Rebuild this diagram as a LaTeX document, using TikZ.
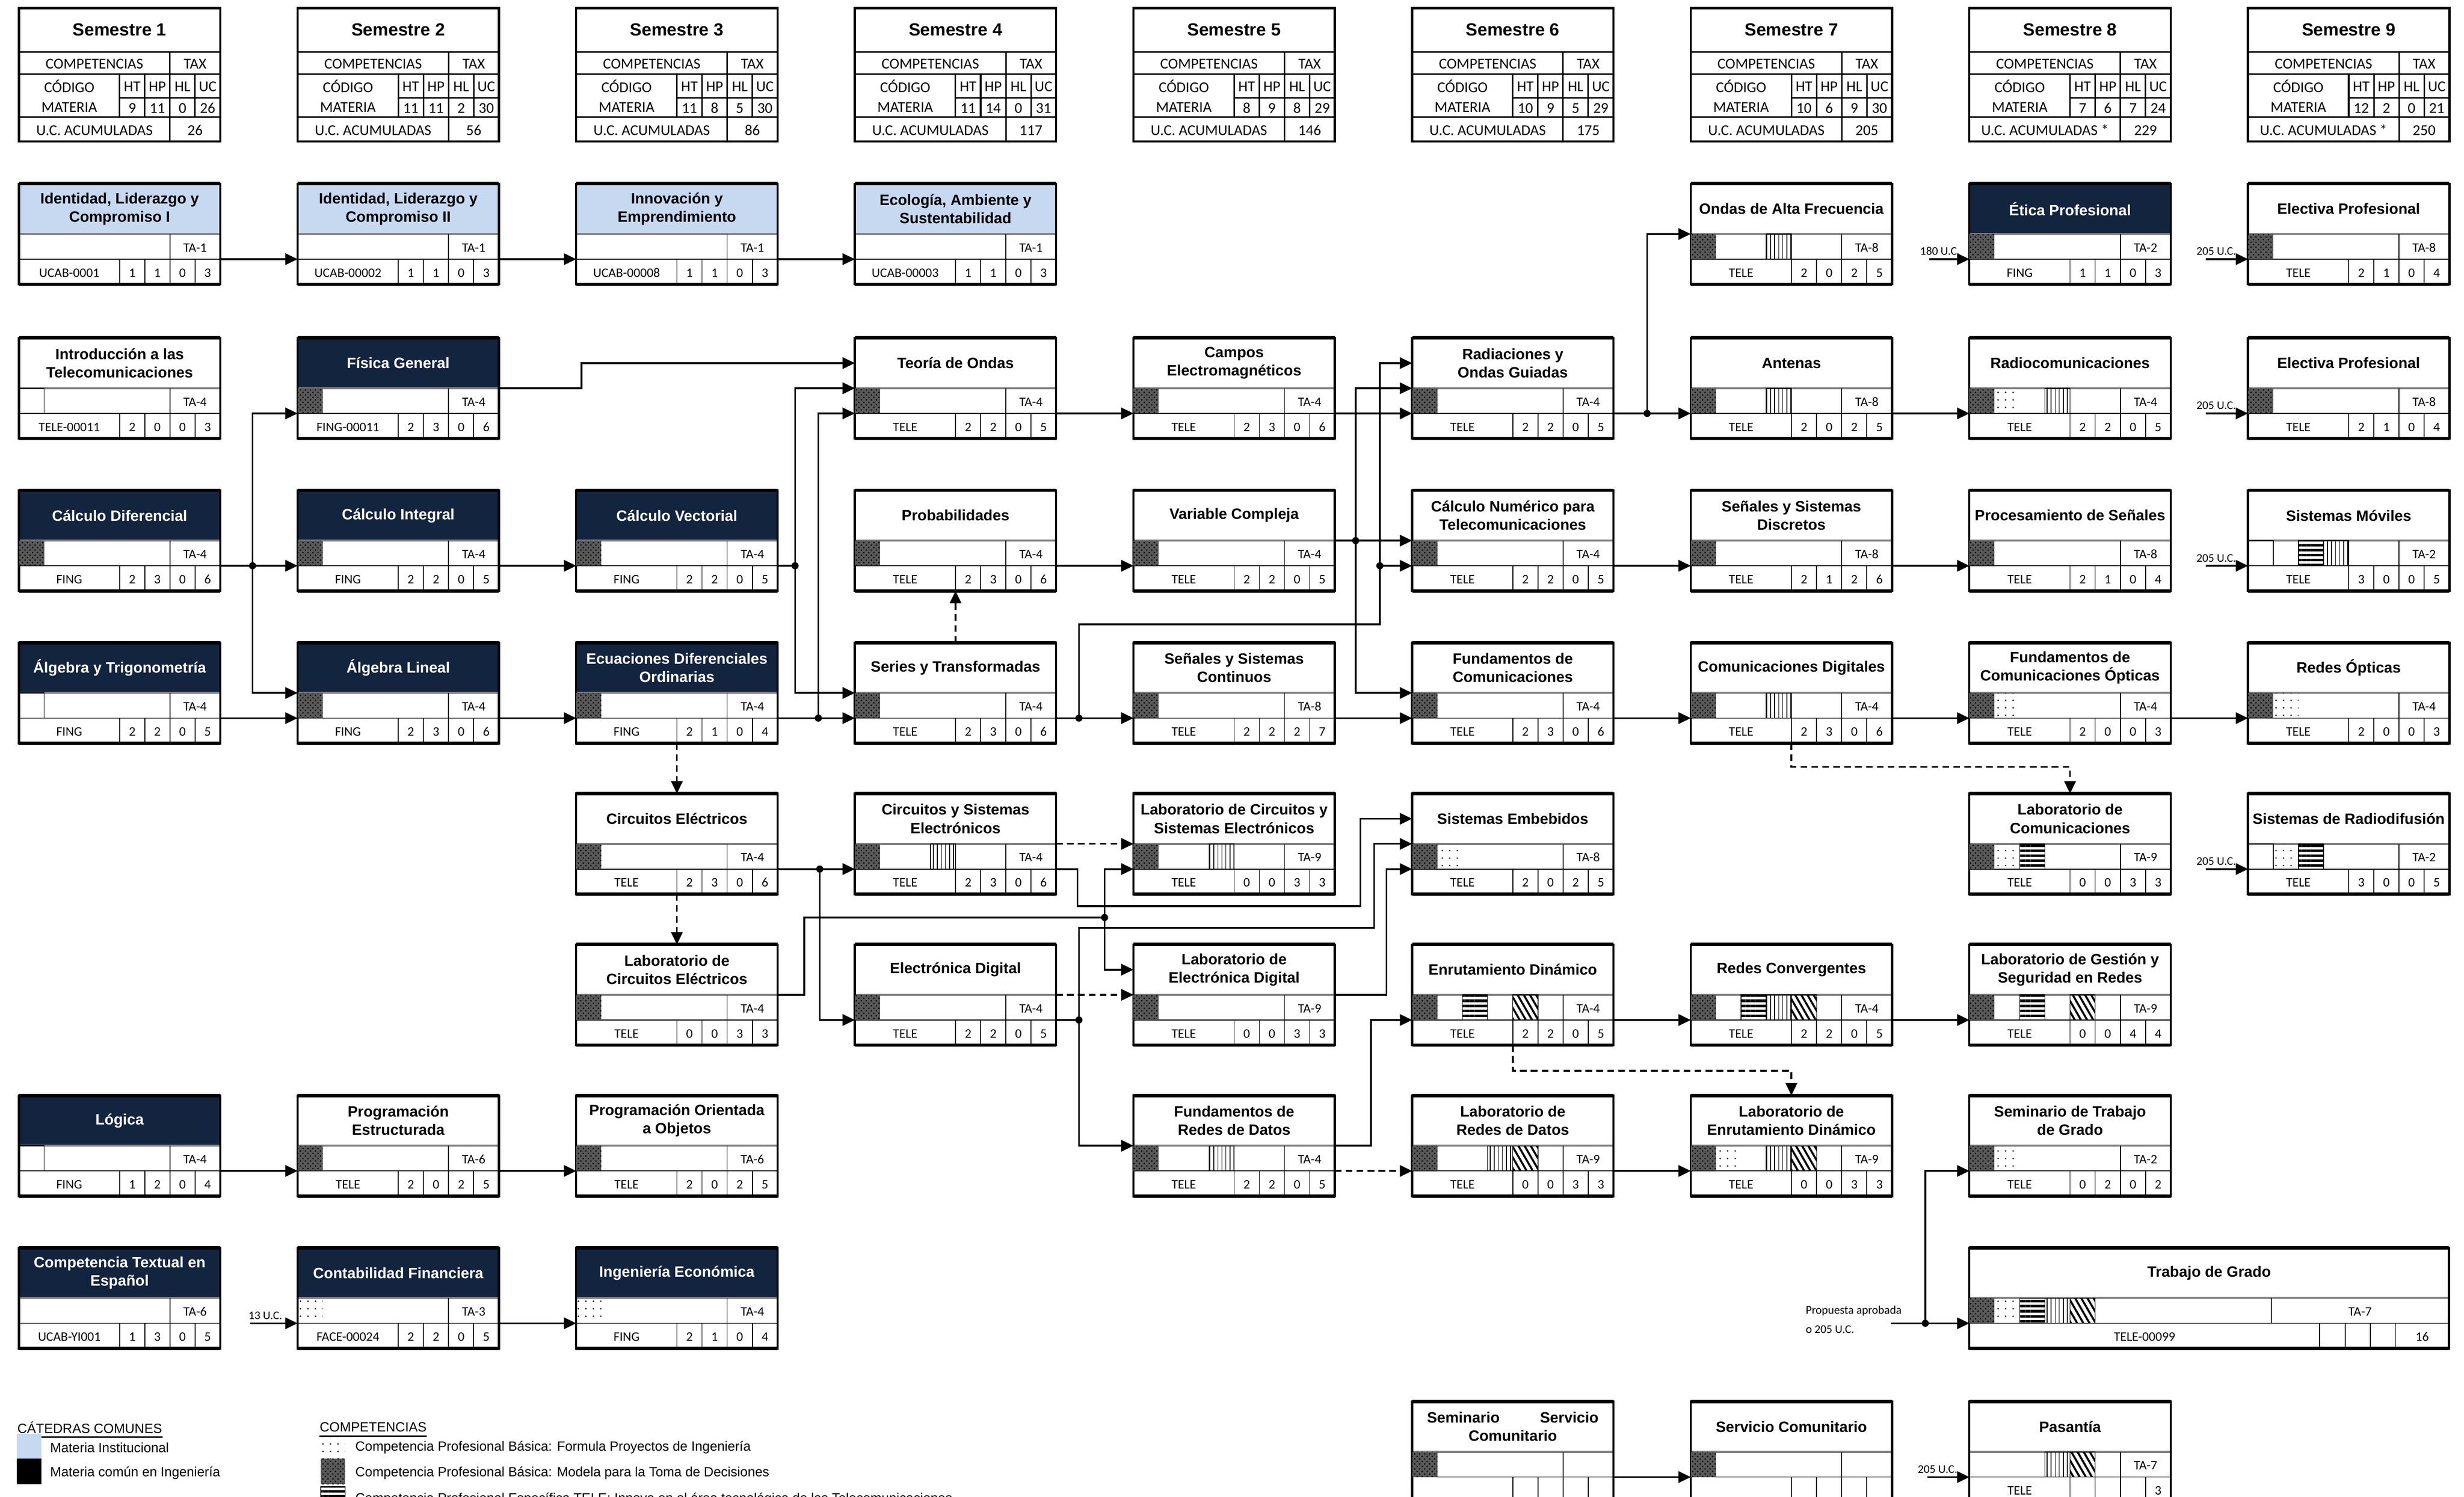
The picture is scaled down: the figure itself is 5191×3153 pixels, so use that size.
\documentclass[tikz,border=0pt]{standalone}
\usepackage{fontspec}
\setmainfont{Liberation Sans}
\newfontfamily\calibri{Carlito}
\usetikzlibrary{positioning, calc, arrows.meta, patterns, patterns.meta}
\definecolor{azulucab}{HTML}{13243F}
\definecolor{celeste}{HTML}{C6D9F1}

% caja de materia: nombre, x, y, estilo del titulo, titulo
\newcommand{\materia}[5]
{
	\begin{scope}[shift={(#2,#3)}]
		\fill[#4] (0,0) rectangle (424,106);
		\coordinate (#1-o) at (0,0);
		\coordinate (#1-n) at (212,0);
		\coordinate (#1-s) at (212,212);
		\coordinate (#1-w1) at (0,53);
		\coordinate (#1-w2) at (0,106);
		\coordinate (#1-w3) at (0,159);
		\coordinate (#1-e1) at (424,53);
		\coordinate (#1-e2) at (424,106);
		\coordinate (#1-e3) at (424,159);
		\node[titulo, #4] (#1-tit) at (212,53) {#5};
		\draw[sep] (0,106) -- (424,106);
		\draw[fino] (318,106) -- (318,159) (0,159) -- (424,159) (212,159) -- (212,212)
			(265,159) -- (265,212) (318,159) -- (318,212) (371,159) -- (371,212);
		\node[caja] (#1) at (212,106) {};
		\draw[line width=2pt] (0,0) -- (424,0) (0,212) -- (424,212);
	\end{scope}
}
% TA, codigo, HT, HP, HL, UC
\newcommand{\datos}[7]
{
	\node[dato] (#1-ta) at ($(#1-o)+(371,132)$) {#2};
	\node[dato] (#1-cod) at ($(#1-o)+(106,185)$) {#3};
	\node[dato] (#1-ht) at ($(#1-o)+(238.5,185)$) {#4};
	\node[dato] (#1-hp) at ($(#1-o)+(291.5,185)$) {#5};
	\node[dato] (#1-hl) at ($(#1-o)+(344.5,185)$) {#6};
	\node[dato] (#1-uc) at ($(#1-o)+(397.5,185)$) {#7};
}
% celdas de competencias: lista casilla/patron
\newcommand{\competencia}[2]
{
	\foreach \slot/\pat in {#2}
		\path[patron/.expanded=\pat] ($(#1-o)+(53*\slot-53,106)$) rectangle +(53,53);
}
% cabecera de semestre
\newcommand{\semestre}[9]
{
	\begin{scope}[shift={(#2,17)}]
		\draw[semlinea] (0,93) -- (424,93) (0,139) -- (424,139) (212,189) -- (424,189) (0,230) -- (424,230)
			(318,93) -- (318,281) (212,139) -- (212,230) (265,139) -- (265,230) (371,139) -- (371,230);
		\node[semcaja] (#1) at (212,140.5) {};
		\node[semtit] (#1-tit) at (212,46) {Semestre #3};
		\node[semtxt] (#1-comp) at (159,116) {COMPETENCIAS};
		\node[semtxt] (#1-tax) at (371,116) {TAX};
		\node[semtxt] (#1-cod) at (106,166) {CÓDIGO};
		\node[semtxt] (#1-mat) at (106,208) {MATERIA};
		\node[semtxt] (#1-lht) at (238.5,164) {HT};
		\node[semtxt] (#1-lhp) at (291.5,164) {HP};
		\node[semtxt] (#1-lhl) at (344.5,164) {HL};
		\node[semtxt] (#1-luc) at (397.5,164) {UC};
		\node[semtxt] (#1-ht) at (238.5,210) {#4};
		\node[semtxt] (#1-hp) at (291.5,210) {#5};
		\node[semtxt] (#1-hl) at (344.5,210) {#6};
		\node[semtxt] (#1-uc) at (397.5,210) {#7};
		\node[semtxt] (#1-acl) at (159,256) {#8};
		\node[semtxt] (#1-ac) at (371,256) {#9};
	\end{scope}
}

\begin{document}
\begin{tikzpicture}[x=0.01cm, y=-0.01cm,
	caja/.style={draw=black, line width=1.3pt, minimum width=4.24cm, minimum height=2.12cm, inner sep=0pt},
	semcaja/.style={draw=black, line width=1.3pt, minimum width=4.24cm, minimum height=2.81cm, inner sep=0pt},
	semlinea/.style={line width=0.9pt},
	fino/.style={line width=0.5pt},
	sep/.style={draw=black!50, line width=1.2pt},
	titulo/.style={font=\bfseries\fontsize{9}{11}\selectfont, align=center, inner sep=0pt},
	dato/.style={font=\calibri\fontsize{7.8}{9}\selectfont, inner sep=0pt, text height=1.5ex, text depth=.25ex},
	semtit/.style={font=\bfseries\fontsize{10.5}{12}\selectfont, inner sep=0pt},
	semtxt/.style={font=\calibri\fontsize{9}{10}\selectfont, inner sep=0pt, text height=1.5ex, text depth=.25ex},
	uctxt/.style={font=\calibri\fontsize{7}{11.3}\selectfont, inner sep=1pt},
	leyenda/.style={font=\fontsize{8}{10}\selectfont, inner sep=0pt, anchor=west},
	blanco/.style={fill=white, text=black},
	inst/.style={fill=celeste, text=black},
	ing/.style={fill=azulucab, text=white},
	patron/.style={#1},
	pmodela/.style={fill=black!65, postaction={pattern=crosshatch dots, pattern color=black}},
	pformula/.style={pattern={Dots[distance=4.5pt, radius=0.5pt]}, pattern color=black},
	pinnova/.style={draw=black, line width=0.4pt, pattern={Lines[angle=0, distance=3pt, line width=1.5pt]}},
	pvert/.style={draw=black, line width=0.4pt, pattern={Lines[angle=90, distance=2.4pt, line width=0.5pt]}},
	pdiag/.style={draw=black, line width=0.4pt, pattern={Lines[angle=-60, distance=3.2pt, line width=1.2pt]}},
	pvacio/.style={draw=black, line width=0.5pt},
	linea/.style={line width=1.1pt},
	flecha/.style={line width=1.1pt, -{Triangle[length=0.26cm, width=0.24cm]}},
	discont/.style={flecha, dash pattern=on 0.14cm off 0.09cm}]

	\fill[white] (0,0) rectangle (5191,3153);
	\useasboundingbox (0,0) rectangle (5191,3153);

	% semestres
	\semestre{sem1}{40}{1}{9}{11}{0}{26}{U.C. ACUMULADAS}{26}
	\semestre{sem2}{627}{2}{11}{11}{2}{30}{U.C. ACUMULADAS}{56}
	\semestre{sem3}{1214}{3}{11}{8}{5}{30}{U.C. ACUMULADAS}{86}
	\semestre{sem4}{1801}{4}{11}{14}{0}{31}{U.C. ACUMULADAS}{117}
	\semestre{sem5}{2388}{5}{8}{9}{8}{29}{U.C. ACUMULADAS}{146}
	\semestre{sem6}{2975}{6}{10}{9}{5}{29}{U.C. ACUMULADAS}{175}
	\semestre{sem7}{3562}{7}{10}{6}{9}{30}{U.C. ACUMULADAS}{205}
	\semestre{sem8}{4149}{8}{7}{6}{7}{24}{U.C. ACUMULADAS *}{229}
	\semestre{sem9}{4736}{9}{12}{2}{0}{21}{U.C. ACUMULADAS *}{250}

	% semestre 1
	\materia{ident1}{40}{387}{inst}{Identidad, Liderazgo y\\Compromiso I}
	\datos{ident1}{TA-1}{UCAB-0001}{1}{1}{0}{3}
	\materia{intro}{40}{712}{blanco}{Introducción a las\\Telecomunicaciones}
	\competencia{intro}{1/pvacio}
	\datos{intro}{TA-4}{TELE-00011}{2}{0}{0}{3}
	\materia{calcdif}{40}{1033}{ing}{Cálculo Diferencial}
	\competencia{calcdif}{1/pmodela}
	\datos{calcdif}{TA-4}{FING}{2}{3}{0}{6}
	\materia{algtrig}{40}{1354}{ing}{Álgebra y Trigonometría}
	\competencia{algtrig}{1/pvacio}
	\datos{algtrig}{TA-4}{FING}{2}{2}{0}{5}
	\materia{logica}{40}{2308}{ing}{Lógica}
	\competencia{logica}{1/pvacio}
	\datos{logica}{TA-4}{FING}{1}{2}{0}{4}
	\materia{comptex}{40}{2629}{ing}{Competencia Textual en\\Español}
	\datos{comptex}{TA-6}{UCAB-YI001}{1}{3}{0}{5}

	% semestre 2
	\materia{ident2}{627}{387}{inst}{Identidad, Liderazgo y\\Compromiso II}
	\datos{ident2}{TA-1}{UCAB-00002}{1}{1}{0}{3}
	\materia{fisica}{627}{712}{ing}{Física General}
	\competencia{fisica}{1/pmodela}
	\datos{fisica}{TA-4}{FING-00011}{2}{3}{0}{6}
	\materia{calcint}{627}{1033}{ing}{Cálculo Integral}
	\competencia{calcint}{1/pmodela}
	\datos{calcint}{TA-4}{FING}{2}{2}{0}{5}
	\materia{alglin}{627}{1354}{ing}{Álgebra Lineal}
	\competencia{alglin}{1/pmodela}
	\datos{alglin}{TA-4}{FING}{2}{3}{0}{6}
	\materia{progest}{627}{2308}{blanco}{Programación\\Estructurada}
	\competencia{progest}{1/pmodela}
	\datos{progest}{TA-6}{TELE}{2}{0}{2}{5}
	\materia{contab}{627}{2629}{ing}{Contabilidad Financiera}
	\competencia{contab}{1/pformula}
	\datos{contab}{TA-3}{FACE-00024}{2}{2}{0}{5}

	% semestre 3
	\materia{innov}{1214}{387}{inst}{Innovación y\\Emprendimiento}
	\datos{innov}{TA-1}{UCAB-00008}{1}{1}{0}{3}
	\materia{calcvec}{1214}{1033}{ing}{Cálculo Vectorial}
	\competencia{calcvec}{1/pmodela}
	\datos{calcvec}{TA-4}{FING}{2}{2}{0}{5}
	\materia{edo}{1214}{1354}{ing}{Ecuaciones Diferenciales\\Ordinarias}
	\competencia{edo}{1/pmodela}
	\datos{edo}{TA-4}{FING}{2}{1}{0}{4}
	\materia{circel}{1214}{1672}{blanco}{Circuitos Eléctricos}
	\competencia{circel}{1/pmodela}
	\datos{circel}{TA-4}{TELE}{2}{3}{0}{6}
	\materia{labcirc}{1214}{1990}{blanco}{Laboratorio de\\Circuitos Eléctricos}
	\competencia{labcirc}{1/pmodela}
	\datos{labcirc}{TA-4}{TELE}{0}{0}{3}{3}
	\materia{poo}{1214}{2308}{blanco}{Programación Orientada\\a Objetos}
	\competencia{poo}{1/pmodela}
	\datos{poo}{TA-6}{TELE}{2}{0}{2}{5}
	\materia{ingecon}{1214}{2629}{ing}{Ingeniería Económica}
	\competencia{ingecon}{1/pformula}
	\datos{ingecon}{TA-4}{FING}{2}{1}{0}{4}

	% semestre 4
	\materia{eco}{1801}{387}{inst}{Ecología, Ambiente y\\Sustentabilidad}
	\datos{eco}{TA-1}{UCAB-00003}{1}{1}{0}{3}
	\materia{teoria}{1801}{712}{blanco}{Teoría de Ondas}
	\competencia{teoria}{1/pmodela}
	\datos{teoria}{TA-4}{TELE}{2}{2}{0}{5}
	\materia{prob}{1801}{1033}{blanco}{Probabilidades}
	\competencia{prob}{1/pmodela}
	\datos{prob}{TA-4}{TELE}{2}{3}{0}{6}
	\materia{series}{1801}{1354}{blanco}{Series y Transformadas}
	\competencia{series}{1/pmodela}
	\datos{series}{TA-4}{TELE}{2}{3}{0}{6}
	\materia{cse}{1801}{1672}{blanco}{Circuitos y Sistemas\\Electrónicos}
	\competencia{cse}{1/pmodela, 4/pvert}
	\datos{cse}{TA-4}{TELE}{2}{3}{0}{6}
	\materia{elecdig}{1801}{1990}{blanco}{Electrónica Digital}
	\competencia{elecdig}{1/pmodela}
	\datos{elecdig}{TA-4}{TELE}{2}{2}{0}{5}

	% semestre 5
	\materia{campos}{2388}{712}{blanco}{Campos\\Electromagnéticos}
	\competencia{campos}{1/pmodela}
	\datos{campos}{TA-4}{TELE}{2}{3}{0}{6}
	\materia{varcomp}{2388}{1033}{blanco}{Variable Compleja}
	\competencia{varcomp}{1/pmodela}
	\datos{varcomp}{TA-4}{TELE}{2}{2}{0}{5}
	\materia{ssc}{2388}{1354}{blanco}{Señales y Sistemas\\Continuos}
	\competencia{ssc}{1/pmodela}
	\datos{ssc}{TA-8}{TELE}{2}{2}{2}{7}
	\materia{labcse}{2388}{1672}{blanco}{Laboratorio de Circuitos y\\Sistemas Electrónicos}
	\competencia{labcse}{1/pmodela, 4/pvert}
	\datos{labcse}{TA-9}{TELE}{0}{0}{3}{3}
	\materia{labed}{2388}{1990}{blanco}{Laboratorio de\\Electrónica Digital}
	\competencia{labed}{1/pmodela}
	\datos{labed}{TA-9}{TELE}{0}{0}{3}{3}
	\materia{fundred}{2388}{2308}{blanco}{Fundamentos de\\Redes de Datos}
	\competencia{fundred}{1/pmodela, 4/pvert}
	\datos{fundred}{TA-4}{TELE}{2}{2}{0}{5}

	% semestre 6
	\materia{radiac}{2975}{712}{blanco}{Radiaciones y\\Ondas Guiadas}
	\competencia{radiac}{1/pmodela}
	\datos{radiac}{TA-4}{TELE}{2}{2}{0}{5}
	\materia{calcnum}{2975}{1033}{blanco}{Cálculo Numérico para\\Telecomunicaciones}
	\competencia{calcnum}{1/pmodela}
	\datos{calcnum}{TA-4}{TELE}{2}{2}{0}{5}
	\materia{fundcom}{2975}{1354}{blanco}{Fundamentos de\\Comunicaciones}
	\competencia{fundcom}{1/pmodela}
	\datos{fundcom}{TA-4}{TELE}{2}{3}{0}{6}
	\materia{embeb}{2975}{1672}{blanco}{Sistemas Embebidos}
	\competencia{embeb}{1/pmodela, 2/pformula}
	\datos{embeb}{TA-8}{TELE}{2}{0}{2}{5}
	\materia{enrut}{2975}{1990}{blanco}{Enrutamiento Dinámico}
	\competencia{enrut}{1/pmodela, 3/pinnova, 5/pdiag}
	\datos{enrut}{TA-4}{TELE}{2}{2}{0}{5}
	\materia{labredes}{2975}{2308}{blanco}{Laboratorio de\\Redes de Datos}
	\competencia{labredes}{1/pmodela, 4/pvert, 5/pdiag}
	\datos{labredes}{TA-9}{TELE}{0}{0}{3}{3}
	\materia{semserv}{2975}{2953}{blanco}{Seminario\hspace{0.85cm}Servicio\\Comunitario}
	\competencia{semserv}{1/pmodela}
	\datos{semserv}{}{}{}{}{}{}

	% semestre 7
	\materia{ondas}{3562}{387}{blanco}{Ondas de Alta Frecuencia}
	\competencia{ondas}{1/pmodela, 4/pvert}
	\datos{ondas}{TA-8}{TELE}{2}{0}{2}{5}
	\materia{antenas}{3562}{712}{blanco}{Antenas}
	\competencia{antenas}{1/pmodela, 4/pvert}
	\datos{antenas}{TA-8}{TELE}{2}{0}{2}{5}
	\materia{ssd}{3562}{1033}{blanco}{Señales y Sistemas\\Discretos}
	\competencia{ssd}{1/pmodela}
	\datos{ssd}{TA-8}{TELE}{2}{1}{2}{6}
	\materia{comdig}{3562}{1354}{blanco}{Comunicaciones Digitales}
	\competencia{comdig}{1/pmodela, 4/pvert}
	\datos{comdig}{TA-4}{TELE}{2}{3}{0}{6}
	\materia{redconv}{3562}{1990}{blanco}{Redes Convergentes}
	\competencia{redconv}{1/pmodela, 3/pinnova, 4/pvert, 5/pdiag}
	\datos{redconv}{TA-4}{TELE}{2}{2}{0}{5}
	\materia{labenrut}{3562}{2308}{blanco}{Laboratorio de\\Enrutamiento Dinámico}
	\competencia{labenrut}{1/pmodela, 2/pformula, 4/pvert, 5/pdiag}
	\datos{labenrut}{TA-9}{TELE}{0}{0}{3}{3}
	\materia{servcom}{3562}{2953}{blanco}{Servicio Comunitario}
	\competencia{servcom}{1/pmodela}
	\datos{servcom}{}{}{}{}{}{}

	% semestre 8
	\materia{etica}{4149}{387}{ing}{Ética Profesional}
	\competencia{etica}{1/pmodela}
	\datos{etica}{TA-2}{FING}{1}{1}{0}{3}
	\materia{radiocom}{4149}{712}{blanco}{Radiocomunicaciones}
	\competencia{radiocom}{1/pmodela, 2/pformula, 4/pvert}
	\datos{radiocom}{TA-4}{TELE}{2}{2}{0}{5}
	\materia{procsen}{4149}{1033}{blanco}{Procesamiento de Señales}
	\competencia{procsen}{1/pmodela}
	\datos{procsen}{TA-8}{TELE}{2}{1}{0}{4}
	\materia{fco}{4149}{1354}{blanco}{Fundamentos de\\Comunicaciones Ópticas}
	\competencia{fco}{1/pmodela, 2/pformula}
	\datos{fco}{TA-4}{TELE}{2}{0}{0}{3}
	\materia{labcom}{4149}{1672}{blanco}{Laboratorio de\\Comunicaciones}
	\competencia{labcom}{1/pmodela, 2/pformula, 3/pinnova}
	\datos{labcom}{TA-9}{TELE}{0}{0}{3}{3}
	\materia{labgest}{4149}{1990}{blanco}{Laboratorio de Gestión y\\Seguridad en Redes}
	\competencia{labgest}{1/pmodela, 3/pinnova, 5/pdiag}
	\datos{labgest}{TA-9}{TELE}{0}{0}{4}{4}
	\materia{semtg}{4149}{2308}{blanco}{Seminario de Trabajo\\de Grado}
	\competencia{semtg}{1/pmodela, 2/pformula}
	\datos{semtg}{TA-2}{TELE}{0}{2}{0}{2}
	\materia{pasant}{4149}{2953}{blanco}{Pasantía}
	\competencia{pasant}{4/pvert, 5/pdiag}
	\datos{pasant}{TA-7}{TELE}{}{}{}{3}

	% semestre 9
	\materia{elec1}{4736}{387}{blanco}{Electiva Profesional}
	\competencia{elec1}{1/pmodela}
	\datos{elec1}{TA-8}{TELE}{2}{1}{0}{4}
	\materia{elec2}{4736}{712}{blanco}{Electiva Profesional}
	\competencia{elec2}{1/pmodela}
	\datos{elec2}{TA-8}{TELE}{2}{1}{0}{4}
	\materia{movil}{4736}{1033}{blanco}{Sistemas Móviles}
	\competencia{movil}{1/pvacio, 3/pinnova, 4/pvert}
	\datos{movil}{TA-2}{TELE}{3}{0}{0}{5}
	\materia{redesop}{4736}{1354}{blanco}{Redes Ópticas}
	\competencia{redesop}{1/pmodela, 2/pformula}
	\datos{redesop}{TA-4}{TELE}{2}{0}{0}{3}
	\materia{radiodif}{4736}{1672}{blanco}{Sistemas de Radiodifusión}
	\competencia{radiodif}{1/pvacio, 2/pformula, 3/pinnova}
	\datos{radiodif}{TA-2}{TELE}{3}{0}{0}{5}

	% trabajo de grado
	\begin{scope}[shift={(4149,2629)}]
		\coordinate (tg-o) at (0,0);
		\coordinate (tg-w3) at (0,159);
		\node[titulo] (tg-tit) at (505,53) {Trabajo de Grado};
		\draw[sep] (0,106) -- (1010,106);
		\draw[fino] (636,106) -- (636,159) (0,159) -- (1010,159) (738,159) -- (738,212)
			(792,159) -- (792,212) (845,159) -- (845,212) (898,159) -- (898,212);
		\node[caja, minimum width=10.1cm] (tg) at (505,106) {};
		\draw[line width=2pt] (0,0) -- (1010,0) (0,212) -- (1010,212);
		\node[dato] (tg-ta) at (823,132) {TA-7};
		\node[dato] (tg-cod) at (369,185) {TELE-00099};
		\node[dato] (tg-uc) at (954,185) {16};
	\end{scope}
	\competencia{tg}{1/pmodela, 2/pformula, 3/pinnova, 4/pvert, 5/pdiag}

	% prelaciones
	\draw[flecha] (ident1-e3) -- (ident2-w3);
	\draw[flecha] (ident2-e3) -- (innov-w3);
	\draw[flecha] (innov-e3) -- (eco-w3);
	\coordinate (j1) at ($(calcdif-e3)+(68,0)$);
	\draw[linea] (calcdif-e3) -- (j1);
	\draw[flecha] (j1) |- (fisica-w3);
	\draw[flecha] (j1) -- (calcint-w3);
	\draw[flecha] (j1) |- (alglin-w2);
	\draw[flecha] (algtrig-e3) -- (alglin-w3);
	\draw[flecha] (calcint-e3) -- (calcvec-w3);
	\draw[flecha] (alglin-e3) -- (edo-w3);
	\draw[flecha] (fisica-e2) -- ++(174,0) |- (teoria-w1);
	\coordinate (j2) at ($(calcvec-e3)+(37,0)$);
	\draw[linea] (calcvec-e3) -- (j2);
	\draw[flecha] (j2) |- (teoria-w2);
	\draw[flecha] (j2) |- (series-w2);
	\coordinate (j3) at ($(edo-e3)+(86,0)$);
	\draw[flecha] (edo-e3) -- (series-w3);
	\draw[flecha] (j3) |- (teoria-w3);
	\draw[discont] (edo-s) -- (circel-n);
	\draw[discont] (circel-s) -- (labcirc-n);
	\draw[discont] (series-n) -- (prob-s);
	\draw[flecha] (teoria-e3) -- (campos-w3);
	\draw[flecha] (prob-e3) -- (varcomp-w3);
	\coordinate (j4) at ($(series-e3)+(48,0)$);
	\coordinate (j5) at ($(calcnum-w3)+(-68,0)$);
	\draw[flecha] (series-e3) -- (ssc-w3);
	\draw[flecha] (j4) -- ++(0,-198) -| ($(radiac-w1)+(-68,0)$) -- (radiac-w1);
	\draw[flecha] (j5) -- (calcnum-w3);
	\coordinate (j6) at ($(varcomp-e2)+(44,0)$);
	\draw[flecha] (varcomp-e2) -- (calcnum-w2);
	\draw[flecha] (j6) |- (radiac-w2);
	\draw[flecha] (j6) |- (fundcom-w2);
	\draw[flecha] (campos-e3) -- (radiac-w3);
	\draw[flecha] (ssc-e3) -- (fundcom-w3);
	\coordinate (j7) at ($(circel-e3)+(89,0)$);
	\draw[flecha] (circel-e3) -- (cse-w3);
	\draw[flecha] (j7) |- (elecdig-w3);
	\coordinate (j8) at ($(labcse-w3)+(-61,102)$);
	\draw[linea] (labcirc-e2) -- ++(56,0) |- (j8);
	\draw[flecha] (j8) |- (labcse-w3);
	\draw[flecha] (j8) |- (labed-w1);
	\draw[discont] (cse-e2) -- (labcse-w2);
	\draw[flecha] (cse-e3) -- ++(45,0) -- ++(0,78) -| ($(embeb-w1)+(-109,0)$) -- (embeb-w1);
	\coordinate (j9) at ($(elecdig-e3)+(48,0)$);
	\draw[linea] (elecdig-e3) -- (j9);
	\draw[flecha] (j9) -- ++(0,-194) -| ($(embeb-w2)+(-80,0)$) -- (embeb-w2);
	\draw[flecha] (j9) |- (fundred-w2);
	\draw[discont] (elecdig-e2) -- (labed-w2);
	\draw[flecha] (labed-e2) -| ($(embeb-w3)+(-54,0)$) -- (embeb-w3);
	\draw[flecha] (fundred-e2) -| ($(enrut-w3)+(-87,0)$) -- (enrut-w3);
	\draw[discont] (fundred-e3) -- (labredes-w3);
	\coordinate (j10) at ($(radiac-e3)+(71,0)$);
	\draw[flecha] (radiac-e3) -- (antenas-w3);
	\draw[flecha] (j10) |- (ondas-w2);
	\draw[flecha] (calcnum-e3) -- (ssd-w3);
	\draw[flecha] (fundcom-e3) -- (comdig-w3);
	\draw[flecha] (antenas-e3) -- (radiocom-w3);
	\draw[flecha] (ssd-e3) -- (procsen-w3);
	\draw[flecha] (comdig-e3) -- (fco-w3);
	\draw[flecha] (fco-e3) -- (redesop-w3);
	\draw[discont] (comdig-s) -- ++(0,50) -| (labcom-n);
	\draw[flecha] (enrut-e3) -- (redconv-w3);
	\draw[flecha] (redconv-e3) -- (labgest-w3);
	\draw[discont] (enrut-s) -- ++(0,54) -| (labenrut-n);
	\draw[flecha] (labredes-e3) -- (labenrut-w3);
	\draw[flecha] (logica-e3) -- (progest-w3);
	\draw[flecha] (progest-e3) -- (poo-w3);
	\draw[flecha] (contab-e3) -- (ingecon-w3);
	\draw[flecha] (semserv-e3) -- (servcom-w3);
	\coordinate (tg-in) at ($(tg-w3)+(-165,0)$);
	\coordinate (j11) at ($(tg-w3)+(-93,0)$);
	\draw[flecha] (tg-in) -- (tg-w3);
	\draw[flecha] (j11) |- (semtg-w3);
	\node[uctxt, anchor=west, align=left] (tprop) at (3800,2780) {Propuesta aprobada\\o 205 U.C.};
	\foreach \j in {j1,j2,j3,j4,j5,j6,j7,j8,j9,j10,j11}
		\fill (\j) circle[radius=0.075cm];

	% requisitos por creditos
	\coordinate (in13) at ($(contab-w3)+(-100,0)$);
	\draw[flecha] (in13) -- (contab-w3);
	\node[uctxt, anchor=south] (t13) at ($(in13)+(32,-4)$) {13 U.C.};
	\coordinate (in180) at ($(etica-w3)+(-84,0)$);
	\draw[flecha] (in180) -- (etica-w3);
	\node[uctxt, anchor=south] (t180) at ($(in180)+(22,-4)$) {180 U.C.};
	\foreach \m in {elec1,elec2,movil,radiodif,pasant}
	{
		\coordinate (in-\m) at ($(\m-w3)+(-89,0)$);
		\draw[flecha] (in-\m) -- (\m-w3);
		\node[uctxt, anchor=south] (t-\m) at ($(in-\m)+(22,-4)$) {205 U.C.};
	}

	% leyenda
	\node[leyenda] (catedras) at (36,3007) {CÁTEDRAS COMUNES};
	\draw[line width=0.8pt] (catedras.south west) ++(0,8) -- ($(catedras.south east)+(0,8)$);
	\fill[celeste] (35,3021) rectangle (87,3073);
	\fill[black] (35,3073) rectangle (87,3127);
	\node[leyenda] (leg1) at (105,3050) {Materia Institucional};
	\node[leyenda] (leg2) at (105,3103) {Materia común en Ingeniería};
	\node[leyenda] (comps) at (673,3007) {COMPETENCIAS};
	\draw[line width=0.8pt] (comps.south west) ++(0,8) -- ($(comps.south east)+(0,8)$);
	\path[pformula] (676,3022) rectangle (727,3072);
	\path[pmodela] (676,3073) rectangle (727,3127);
	\path[pinnova] (676,3132) rectangle (727,3185);
	\node[leyenda] (leg3) at (748,3050) {Competencia Profesional Básica: Formula Proyectos de Ingeniería};
	\node[leyenda] (leg4) at (748,3103) {Competencia Profesional Básica: Modela para la Toma de Decisiones};
	\node[leyenda] (leg5) at (748,3158) {Competencia Profesional Específica TELE: Innova en el área tecnológica de las Telecomunicaciones};
\end{tikzpicture}
\end{document}
